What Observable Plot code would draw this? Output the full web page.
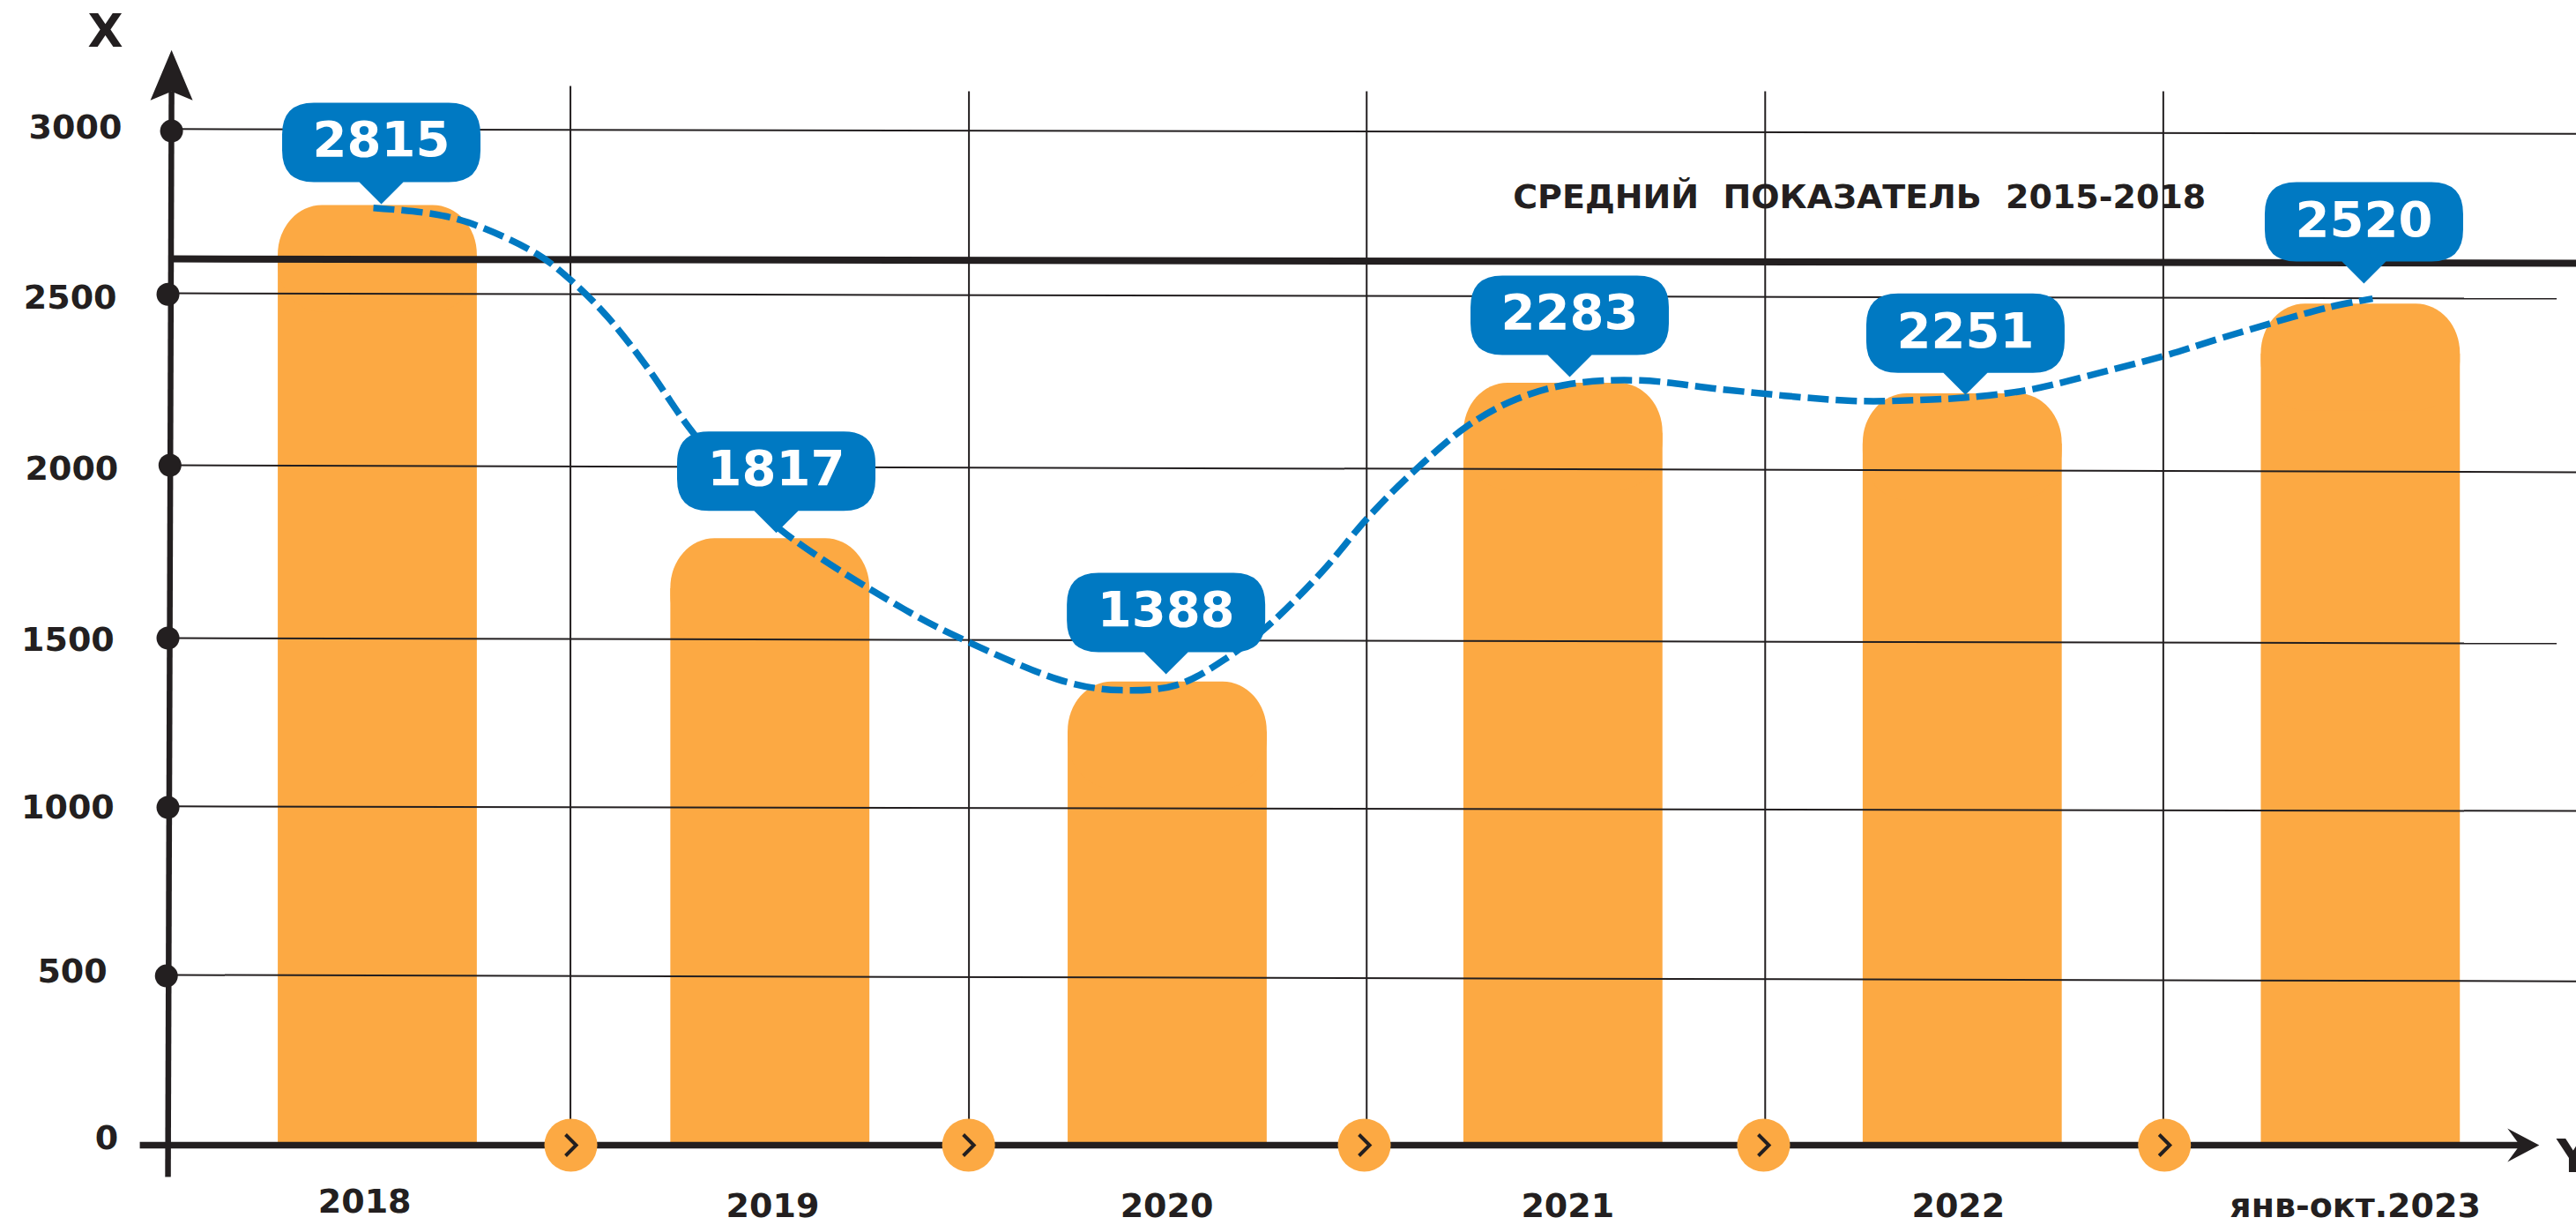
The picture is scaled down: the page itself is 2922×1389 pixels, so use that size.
<!DOCTYPE html>
<html lang="ru">
<head>
<meta charset="utf-8">
<title>Средний показатель</title>
<script src="https://cdn.jsdelivr.net/npm/d3@7"></script>
<script src="https://cdn.jsdelivr.net/npm/@observablehq/plot@0.6"></script>
<style>
  html, body { margin: 0; padding: 0; background: #fff; overflow: hidden; }
  svg { display: block; }
</style>
</head>
<body>
<script>
// Chart values
const categories = ["2018", "2019", "2020", "2021", "2022", "янв-окт.2023"];
const values = [2815, 1817, 1388, 2283, 2251, 2520];

// Horizontal position of bars, bubbles and category labels (year units)
const barCenter = [2018, 2018.99, 2019.992, 2020.99, 2021.997, 2023.001];
const bubbleX = [2018.009, 2019.005, 2019.988, 2021.006, 2022.004, 2023.009];
const bubbleTip = [2819, 1834, 1411, 2301, 2248, 2581];
const categoryX = [2017.967, 2018.996, 2019.99, 2021.001, 2021.986, 2022.987];
const categoryY = [-171, -183, -183, -183, -183, -183];

// Y axis tick labels, read where they sit in the picture
const tickLabels = ["3000", "2500", "2000", "1500", "1000", "500", "0"];
const tickX = [2017.355, 2017.342, 2017.346, 2017.336, 2017.336, 2017.318, 2017.346];
const tickY = [3049, 2539, 2026, 1514, 1012, 520, 20];

// Slightly tilted horizontal grid lines and the axis dots on them
const gridLeft = [3044, 2552, 2037, 1519, 1015, 510];
const gridRight = [3030, 2536, 2016, 1503, 1001, 491];
const gridEnd = [2023.544, 2023.495, 2023.544, 2023.495, 2023.544, 2023.544];
const axisDotX = [2017.48, 2017.471, 2017.476, 2017.471, 2017.471, 2017.467];
const axisDotY = [3038, 2549, 2037, 1519, 1012, 507];

// Vertical separators between years
const sepX = [2018.486, 2019.491, 2020.494, 2021.499, 2022.503];
const sepTop = [3173, 3157, 3157, 3157, 3157];
const sepDotX = [2018.487, 2019.49, 2020.488, 2021.495, 2022.506];

// Dashed trend line
const trendX = [2017.989, 2018.138, 2018.229, 2018.4, 2018.494, 2018.582, 2018.678, 2018.783, 2018.905,
  2019.016, 2019.327, 2019.483, 2019.739, 2019.876, 2020.016, 2020.143, 2020.25,
  2020.383, 2020.494, 2020.606, 2020.75, 2020.872, 2021.006, 2021.183, 2021.406, 2021.717,
  2021.884, 2022.006, 2022.161, 2022.337, 2022.506, 2022.655, 2022.92, 2023.031];
const trendY = [2808, 2790, 2764, 2671, 2584, 2478, 2333, 2153, 1976,
  1844, 1606, 1511, 1387, 1363, 1379, 1461, 1561,
  1720, 1876, 2011, 2156, 2235, 2280, 2291, 2262, 2230,
  2232, 2240, 2262, 2312, 2365, 2420, 2510, 2536];

// Reference line "средний показатель"
const avgTitle = "СРЕДНИЙ ПОКАЗАТЕЛЬ 2015-2018";
const avgLeft = 2655;
const avgRight = 2642;

// Axes
const xAxisStart = 2017.4;
const xAxisEnd = 2023.406;
const xArrowTip = 2023.451;
const yAxisTopX = 2017.48;
const yAxisBottomX = 2017.471;
const yAxisBottom = -95;
const yArrowTip = 3281;

const ink = "#231f20";
const orange = "#fca943";
const blue = "#0079c2";
const font = "DejaVu Sans";

const idx = d3.range(values.length);
const ticks = d3.range(tickLabels.length);
const grid = d3.range(gridLeft.length);
const seps = d3.range(sepX.length);
const trend = trendX.map((x, i) => ({x, y: trendY[i]}));

const bubbleSymbol = {
  draw(c) {
    const w = 112.5, t = -115, b = -25, r = 36;
    c.moveTo(-w + r, t);
    c.lineTo(w - r, t);
    c.quadraticCurveTo(w, t, w, t + r);
    c.lineTo(w, b - r);
    c.quadraticCurveTo(w, b, w - r, b);
    c.lineTo(25, b);
    c.lineTo(0, 0);
    c.lineTo(-25, b);
    c.lineTo(-w + r, b);
    c.quadraticCurveTo(-w, b, -w, b - r);
    c.lineTo(-w, t + r);
    c.quadraticCurveTo(-w, t, -w + r, t);
    c.closePath();
  }
};
const chevronSymbol = {
  draw(c) {
    c.moveTo(-6, -12);
    c.lineTo(6, 0);
    c.lineTo(-6, 12);
  }
};
const arrowUp = {
  draw(c) {
    c.moveTo(0, 0);
    c.lineTo(24, 57);
    c.lineTo(0, 47);
    c.lineTo(-24, 57);
    c.closePath();
  }
};
const arrowRight = {
  draw(c) {
    c.moveTo(0, 0);
    c.lineTo(-36, -19);
    c.lineTo(-22, 0);
    c.lineTo(-36, 19);
    c.closePath();
  }
};

const chart = Plot.plot({
  width: 2922,
  height: 1389,
  margin: 0,
  style: {background: "#fff"},
  x: {axis: null, domain: [2017.0485, 2023.5449], range: [0, 2922]},
  y: {axis: null, domain: [0, 3000], range: [1298, 162.5]},
  marks: [
    // Bars: a square body plus a round-cornered cap
    Plot.rect(idx, {
      x1: i => barCenter[i] - 0.251, x2: i => barCenter[i] + 0.251,
      y1: 0, y2: i => values[i] - 150, fill: orange
    }),
    Plot.rect(idx, {
      x1: i => barCenter[i] - 0.251, x2: i => barCenter[i] + 0.251,
      y1: i => values[i] - 320, y2: i => values[i], fill: orange, rx: 50, ry: 56
    }),
    // Grid
    Plot.link(grid, {
      x1: yAxisTopX, y1: i => gridLeft[i], x2: i => gridEnd[i], y2: i => gridRight[i],
      stroke: ink, strokeWidth: 2
    }),
    Plot.link(seps, {
      x1: i => sepX[i], y1: i => sepTop[i], x2: i => sepX[i], y2: 0,
      stroke: ink, strokeWidth: 2
    }),
    // Average line
    Plot.link([0], {
      x1: yAxisTopX, y1: avgLeft, x2: 2023.544, y2: avgRight,
      stroke: ink, strokeWidth: 8
    }),
    Plot.text([avgTitle], {
      x: 2020.863, y: 2838, text: d => d, textAnchor: "start",
      fontFamily: font, fontWeight: "bold", fontSize: 38, fill: ink
    }),
    // Axes
    Plot.link([0], {
      x1: xAxisStart, y1: 0, x2: xAxisEnd, y2: 0, stroke: ink, strokeWidth: 7.5
    }),
    Plot.link([0], {
      x1: yAxisTopX, y1: 3157, x2: yAxisBottomX, y2: yAxisBottom, stroke: ink, strokeWidth: 6.5
    }),
    Plot.dot([0], {x: yAxisTopX, y: yArrowTip, symbol: arrowUp, r: 10, fill: ink, stroke: "none"}),
    Plot.dot([0], {x: xArrowTip, y: 0, symbol: arrowRight, r: 10, fill: ink, stroke: "none"}),
    Plot.dot(grid, {x: i => axisDotX[i], y: i => axisDotY[i], r: 13, fill: ink, stroke: "none"}),
    // Separator dots with chevrons
    Plot.dot(seps, {x: i => sepDotX[i], y: 0, r: 30, fill: orange, stroke: "none"}),
    Plot.dot(seps, {
      x: i => sepDotX[i], y: 0, symbol: chevronSymbol, r: 10,
      fill: "none", stroke: ink, strokeWidth: 4
    }),
    // Trend
    Plot.line(trend, {
      x: "x", y: "y", curve: "catmull-rom",
      stroke: blue, strokeWidth: 7.5, strokeDasharray: "24,8", strokeLinecap: "butt"
    }),
    // Bubbles
    Plot.dot(idx, {
      x: i => bubbleX[i], y: i => bubbleTip[i], symbol: bubbleSymbol, r: 10,
      fill: blue, stroke: "none"
    }),
    Plot.text(idx, {
      x: i => bubbleX[i], y: i => bubbleTip[i], text: i => String(values[i]), dy: -72,
      fontFamily: font, fontWeight: "bold", fontSize: 56, fill: "#fff"
    }),
    // Tick and category labels
    Plot.text(ticks, {
      x: i => tickX[i], y: i => tickY[i], text: i => tickLabels[i], textAnchor: "end",
      fontFamily: font, fontWeight: "bold", fontSize: 38, fill: ink
    }),
    Plot.text(idx, {
      x: i => categoryX[i], y: i => categoryY[i], text: i => categories[i],
      fontFamily: font, fontWeight: "bold", fontSize: 38, fill: ink
    }),
    // Axis names
    Plot.text(["X"], {
      x: 2017.313, y: 3334, text: d => d,
      fontFamily: font, fontWeight: "bold", fontSize: 52, fill: ink
    }),
    Plot.text(["Y"], {
      x: 2023.495, y: -37, text: d => d, textAnchor: "start",
      fontFamily: font, fontWeight: "bold", fontSize: 52, fill: ink
    })
  ]
});
document.body.appendChild(chart);
d3.select(chart).selectAll("text")
  .filter(function () { return this.textContent === avgTitle; })
  .style("word-spacing", "14px");
</script>
</body>
</html>
